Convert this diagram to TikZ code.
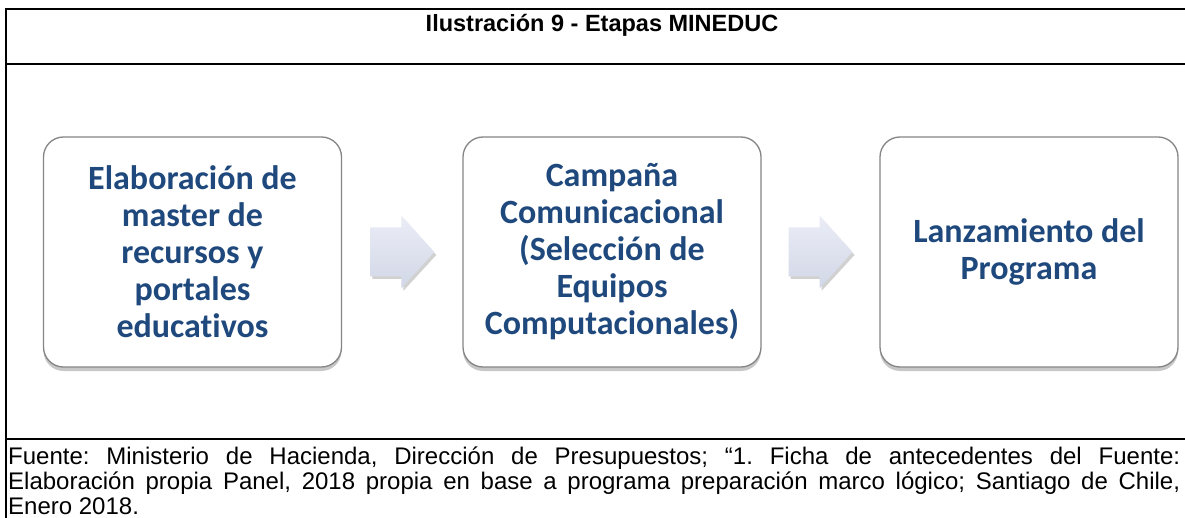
\documentclass[tikz,border=0pt]{standalone}
\usepackage{fontspec}
\setmainfont{Liberation Sans}
\newfontfamily\calib[Ligatures={NoCommon}]{Carlito}
\usetikzlibrary{shadows,calc}
\definecolor{boxtext}{HTML}{1F497D}
\definecolor{boxborder}{HTML}{858585}
\definecolor{arrowtop}{HTML}{EAEDF6}
\definecolor{arrowbot}{HTML}{D2D7E7}
\frenchspacing
\tikzset{
  frameline/.style={line width=2pt,black},
  stagebox/.style={draw=boxborder,line width=1.3pt,fill=white,rounded corners=20pt,
    minimum width=298pt,minimum height=230pt,inner sep=0pt,align=center,text=boxtext,
    font=\calib\bfseries\fontsize{34}{37}\selectfont,
    drop shadow={shadow xshift=0pt,shadow yshift=-4pt,opacity=0.22,fill=black}},
  bigarrow/.pic={
    \fill[black,opacity=0.18] (-30,-22) -- (1,-22) -- (1,-34) -- (34,3) -- (1,39) -- (1,27) -- (-30,27) -- cycle;
    \shade[top color=arrowtop,bottom color=arrowbot] (-32,-24.5) -- (-1,-24.5) -- (-1,-36.5) -- (32,0) -- (-1,36.5) -- (-1,24.5) -- (-32,24.5) -- cycle;
  }
}
\begin{document}
\begin{tikzpicture}[x=1pt,y=-1pt]
\useasboundingbox[fill=white] (0,0) rectangle (1185,518);
% frame
\draw[frameline] (5,9) -- (1185,9);
\draw[frameline] (5,64) -- (1185,64);
\draw[frameline] (5,439) -- (1185,439);
\draw[frameline] (6,8) -- (6,518);
% title
\node[font=\bfseries\fontsize{23.5}{28}\selectfont,anchor=base] (tt) at (602,32) {Ilustración 9 - Etapas MINEDUC};
% stages
\node[stagebox] (b1) at (192.5,252) {Elaboración de\\master de\\recursos y\\portales\\educativos};
\node[stagebox] (b2) at (612,252) {Campaña\\Comunicacional\\(Selección de\\Equipos\\Computacionales)};
\node[stagebox] (b3) at (1029,252) {Lanzamiento del\\Programa};
% arrows
\path (b1.east) -- (b2.west) coordinate[midway] (m1);
\path (b2.east) -- (b3.west) coordinate[midway] (m2);
\pic at (m1) {bigarrow};
\pic at (m2) {bigarrow};
% footer
\node[anchor=north west,text width=1172pt,inner sep=0pt,align=justify,
  font=\fontsize{24}{25}\selectfont] (ft) at (8,447)
  {Fuente: Ministerio de Hacienda, Dirección de Presupuestos; “1. Ficha de antecedentes del Fuente:\linebreak
   Elaboración propia Panel, 2018 propia en base a programa preparación marco lógico; Santiago de Chile,\linebreak
   Enero 2018.};
\end{tikzpicture}
\end{document}
